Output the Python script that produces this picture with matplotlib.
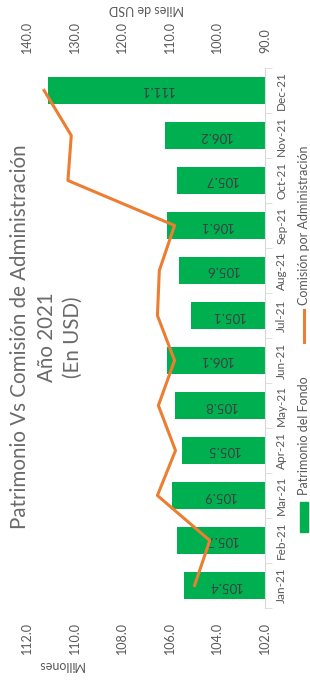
import matplotlib.pyplot as plt
from matplotlib.patches import Rectangle
from matplotlib.lines import Line2D

plt.rcParams['font.family'] = ['Lato', 'DejaVu Sans']

meses = ['Jan-21', 'Feb-21', 'Mar-21', 'Apr-21', 'May-21', 'Jun-21',
         'Jul-21', 'Aug-21', 'Sep-21', 'Oct-21', 'Nov-21', 'Dec-21']
patrimonio = [105.4, 105.7, 105.9, 105.5, 105.8, 106.1,
              105.1, 105.6, 106.1, 105.7, 106.2, 111.1]
comision = [104.8, 101.6, 112.6, 108.8, 112.4, 109.0,
            112.6, 112.2, 109.0, 131.4, 130.7, 136.4]

verde = '#00B050'
naranja = '#ED7D31'
gris = '#595959'

W, H = 310, 683
fig = plt.figure(figsize=(W / 100, H / 100), dpi=100)
ax = fig.add_axes([27 / W, 1 - 608 / H, 238 / W, 540 / H])

pos = list(range(len(meses)))
bars = ax.barh(pos, patrimonio, height=0.6, color=verde, zorder=2)
ax.set_xlim(112, 102)
ax.set_ylim(-0.5, 11.5)
for p, v in zip(pos, patrimonio):
    ax.text(102 + (v - 102) / 2, p, f'{v:.1f}', rotation=180, ha='center',
            va='center', fontsize=9.5, color='#404040', zorder=3)

ax.set_xticks([102, 104, 106, 108, 110, 112])
ax.set_xticklabels([f'{t:.1f}' for t in [102, 104, 106, 108, 110, 112]],
                   rotation=90, fontsize=9, color=gris)
ax.tick_params(axis='x', length=0, pad=10)

ax.yaxis.tick_right()
ax.set_yticks(pos)
ax.set_yticklabels(meses, rotation=90, va='center', fontsize=8.5, color=gris)
ax.set_yticks([p - 0.5 for p in pos] + [11.5], minor=True)
ax.tick_params(axis='y', which='major', length=0, pad=8)
ax.tick_params(axis='y', which='minor', length=5, color='#D9D9D9', right=True, left=False)

for s in ['top', 'bottom', 'left']:
    ax.spines[s].set_visible(False)
ax.spines['right'].set_color('#D9D9D9')

ax2 = ax.twiny()
ax2.plot(comision, pos, color=naranja, lw=2.2, zorder=4)
ax2.set_xlim(140, 90)
ax2.set_xticks([90, 100, 110, 120, 130, 140])
ax2.set_xticklabels([f'{t:.1f}' for t in [90, 100, 110, 120, 130, 140]],
                    rotation=90, fontsize=9, color=gris)
ax2.tick_params(axis='x', length=0, pad=11)
for s in ['top', 'bottom', 'left', 'right']:
    ax2.spines[s].set_visible(False)

fig.text(146 / W, 1 - 9 / H, 'Miles de USD', rotation=180, ha='center',
         va='center', fontsize=9, color=gris)
fig.text(61 / W, 1 - 665 / H, 'Millones', rotation=180, ha='center',
         va='center', fontsize=9, color=gris)

titulo = ['Patrimonio Vs Comisión de Administración', 'Año 2021', '(En USD)']
for xc, t in zip([20, 47, 73], titulo):
    fig.text(xc / W, 1 - 337 / H, t, rotation=90, ha='center', va='center',
             fontsize=14.8, color='#6a6a6a')

fig.patches.append(Rectangle((300 / W, 1 - 532 / H), 8 / W, 30 / H,
                             transform=fig.transFigure, color=verde))
fig.text(304 / W, 1 - 495 / H, 'Patrimonio del Fondo', rotation=90,
         ha='center', va='bottom', fontsize=9, color=gris)
fig.lines.append(Line2D([304 / W, 304 / W], [1 - 342 / H, 1 - 310 / H],
                        transform=fig.transFigure, color=naranja, lw=2.2))
fig.text(304 / W, 1 - 305 / H, 'Comisión por Administración', rotation=90,
         ha='center', va='bottom', fontsize=9, color=gris)

fig.savefig('out.png', dpi=100)
